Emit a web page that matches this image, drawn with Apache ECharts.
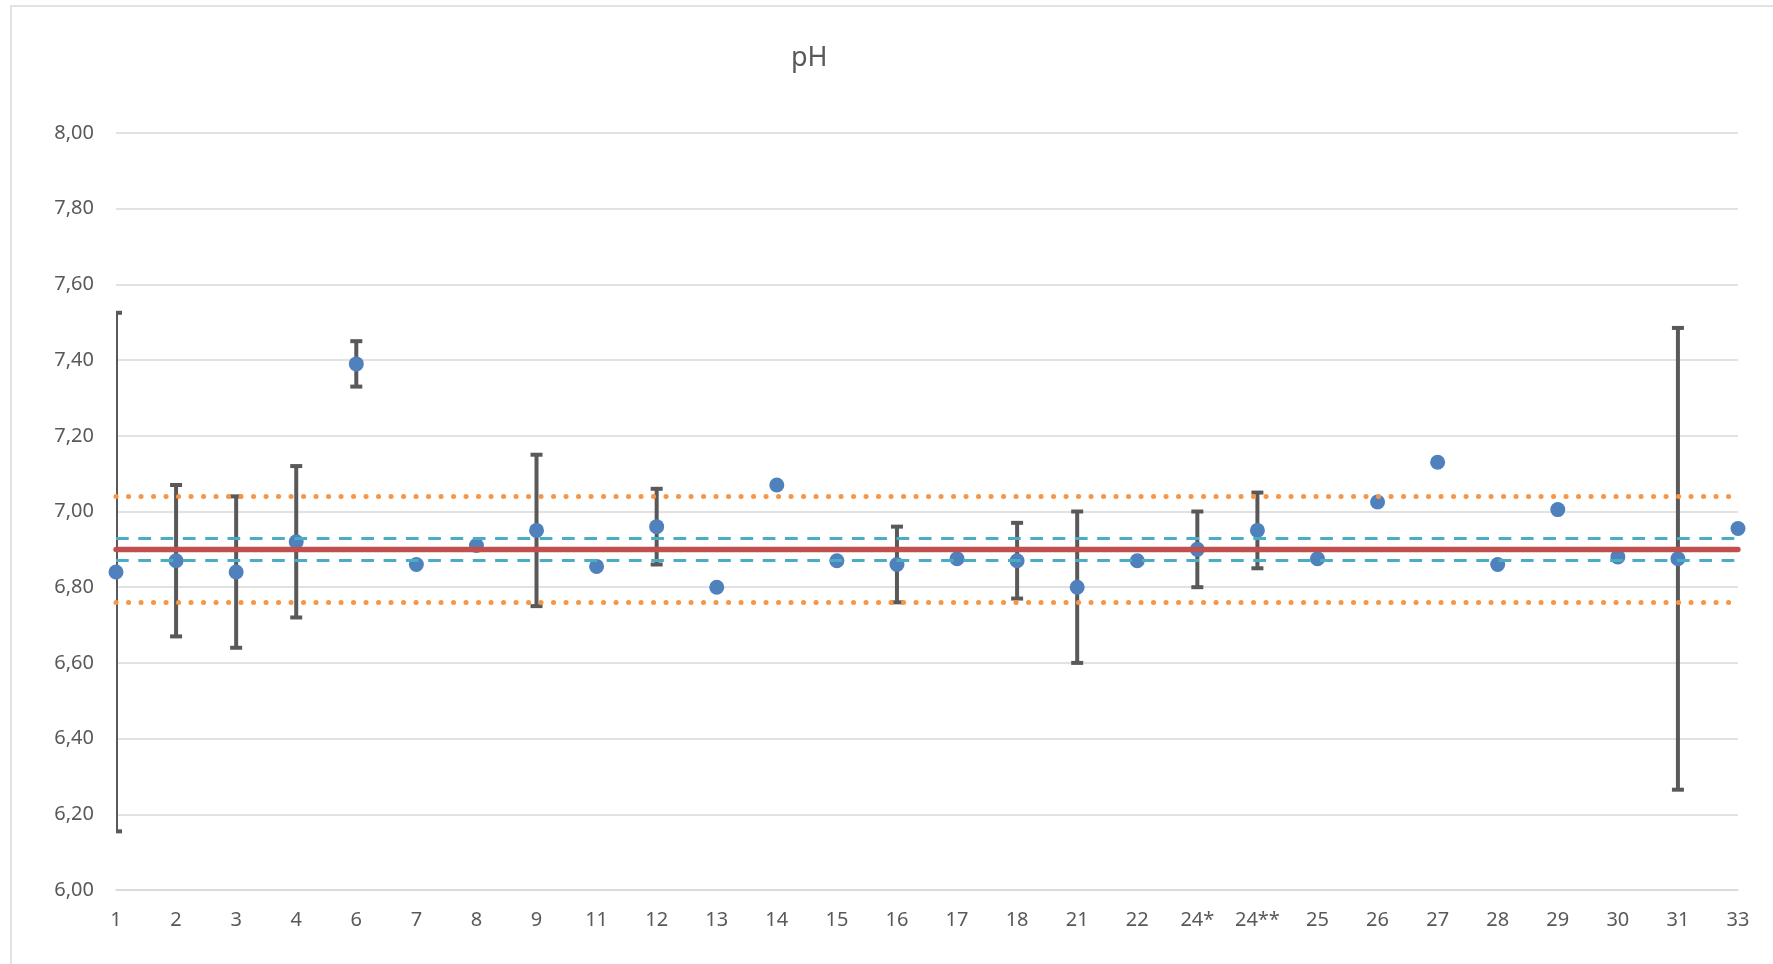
<!DOCTYPE html>
<html>
<head>
<meta charset="utf-8">
<script src="https://cdn.jsdelivr.net/npm/echarts@6/dist/echarts.min.js"></script>
<style>
html,body{margin:0;padding:0;background:#fff;}
#chart{width:1773px;height:964px;}
</style>
</head>
<body>
<div id="chart"></div>
<script>
// ---- data ----
const categories = ['1','2','3','4','6','7','8','9','11','12','13','14','15','16','17','18','21','22','24*','24**','25','26','27','28','29','30','31','33'];
const phValues   = [6.84, 6.87, 6.84, 6.92, 7.39, 6.86, 6.91, 6.95, 6.855, 6.96, 6.80, 7.07, 6.87, 6.86, 6.875, 6.87, 6.80, 6.87, 6.90, 6.95, 6.875, 7.025, 7.13, 6.86, 7.005, 6.88, 6.875, 6.955];
const phErrors   = [0.685, 0.2, 0.2, 0.2, 0.06, null, null, 0.2, null, 0.1, null, null, null, 0.1, null, 0.1, 0.2, null, 0.1, 0.1, null, null, null, null, null, null, 0.61, null];
const meanLine   = 6.902;
const innerLines = [6.935, 6.869];
const outerLines = [7.042, 6.762];
const yMin = 6.0, yMax = 8.0, yStep = 0.2;
const titleText = 'pH';

// ---- build ----
const errData = [];
for (let i = 0; i < categories.length; i++) {
  if (phErrors[i] != null) errData.push([i, phValues[i] - phErrors[i], phValues[i] + phErrors[i]]);
}

const FONT = 'Noto Sans';
const chart = echarts.init(document.getElementById('chart'), null, {renderer: 'canvas'});

function refLineSeries(z, items) {
  return {
    type: 'line', data: [], z: z, silent: true,
    markLine: {silent: true, symbol: 'none', label: {show: false}, data: items}
  };
}
const dotted = {color: '#F79646', width: 5, type: [0.1, 12.4], cap: 'round'};
const dashed = {color: '#4BACC6', width: 3, type: [12.7, 9.6], cap: 'butt'};
const solid  = {color: '#C0504D', width: 5.3, type: 'solid', cap: 'round'};

const option = {
  animation: false,
  backgroundColor: '#ffffff',
  title: {
    text: titleText,
    left: 786,
    top: 40,
    textStyle: {fontFamily: FONT, fontSize: 27, fontWeight: 'normal', color: '#595959'}
  },
  graphic: [{
    type: 'rect',
    silent: true,
    shape: {x: 11, y: 6, width: 1800, height: 1000},
    style: {fill: null, stroke: '#d9d9d9', lineWidth: 1.5}
  }],
  grid: {left: 116, right: 35, top: 133, bottom: 74},
  xAxis: {
    type: 'category',
    data: categories,
    boundaryGap: false,
    axisLine: {show: true, lineStyle: {color: '#d9d9d9', width: 1.5}},
    axisTick: {show: false},
    axisLabel: {interval: 0, margin: 20, fontFamily: FONT, fontSize: 20, color: '#595959'},
    splitLine: {show: false}
  },
  yAxis: {
    type: 'value',
    min: yMin, max: yMax, interval: yStep,
    axisLine: {show: false},
    axisTick: {show: false},
    axisLabel: {
      margin: 22, fontFamily: FONT, fontSize: 20, color: '#595959',
      formatter: v => v.toFixed(2).replace('.', ',')
    },
    splitLine: {lineStyle: {color: '#d9d9d9', width: 1.5}}
  },
  series: [
    refLineSeries(1, [
      {yAxis: meanLine, lineStyle: solid},
      {yAxis: innerLines[0], lineStyle: dashed},
      {yAxis: innerLines[1], lineStyle: dashed}
    ]),
    {
      type: 'custom',
      z: 2,
      clip: true,
      silent: true,
      data: errData,
      renderItem: function (params, api) {
        const x = api.value(0);
        const lo = api.coord([x, api.value(1)]);
        const hi = api.coord([x, api.value(2)]);
        const hw = 6;
        const st = {stroke: '#595959', lineWidth: 4, lineCap: 'butt'};
        return {
          type: 'group',
          children: [
            {type: 'line', shape: {x1: lo[0], y1: lo[1], x2: hi[0], y2: hi[1]}, style: st},
            {type: 'line', shape: {x1: hi[0] - hw, y1: hi[1], x2: hi[0] + hw, y2: hi[1]}, style: st},
            {type: 'line', shape: {x1: lo[0] - hw, y1: lo[1], x2: lo[0] + hw, y2: lo[1]}, style: st}
          ]
        };
      },
      encode: {x: 0, y: [1, 2]}
    },
    refLineSeries(3, [
      {yAxis: outerLines[0], lineStyle: dotted},
      {yAxis: outerLines[1], lineStyle: dotted}
    ]),
    {
      type: 'scatter',
      z: 4,
      data: phValues,
      symbol: 'circle',
      symbolSize: 15,
      itemStyle: {color: '#4F81BD', opacity: 1}
    }
  ]
};
chart.setOption(option);
</script>
</body>
</html>
